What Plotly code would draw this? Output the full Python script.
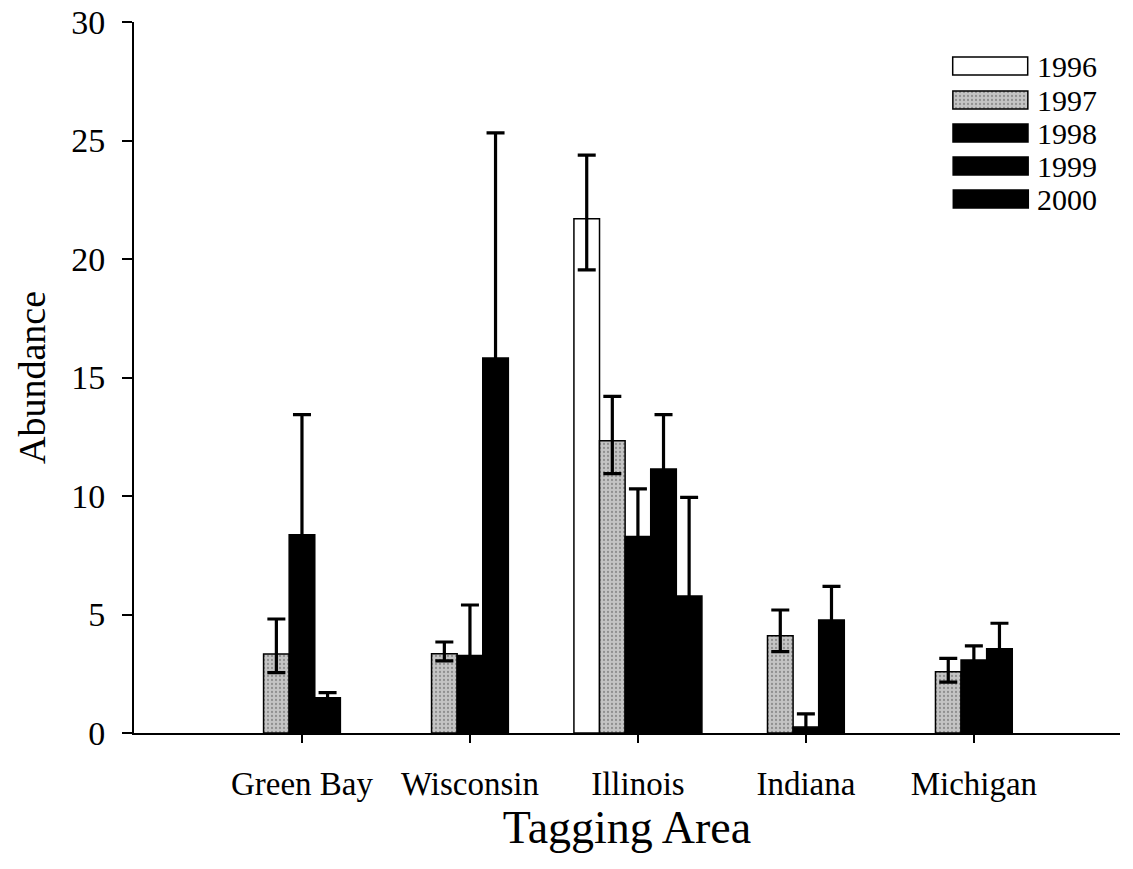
import plotly.graph_objects as go

# Mean abundance by tagging area and year, with upper / lower error extents
areas = ["Green Bay", "Wisconsin", "Illinois", "Indiana", "Michigan"]
years = ["1996", "1997", "1998", "1999", "2000"]

abund_1996 = [None, None, 21.70, None, None]
abund_1997 = [3.33, 3.34, 12.33, 4.10, 2.58]
abund_1998 = [8.36, 3.27, 8.29, 0.25, 3.08]
abund_1999 = [1.49, 15.82, 11.14, 4.77, 3.55]
abund_2000 = [None, None, 5.78, None, None]

err_hi_1996 = [0, 0, 2.68, 0, 0]
err_lo_1996 = [0, 0, 2.16, 0, 0]
err_hi_1997 = [1.48, 0.50, 1.87, 1.09, 0.57]
err_lo_1997 = [0.78, 0.30, 1.39, 0.67, 0.43]
err_hi_1998 = [5.07, 2.13, 2.01, 0.56, 0.60]
err_lo_1998 = [5.07, 2.13, 2.01, 0.25, 0.60]
err_hi_1999 = [0.21, 9.50, 2.29, 1.42, 1.08]
err_lo_1999 = [0.21, 9.50, 2.29, 1.42, 1.08]
err_hi_2000 = [0, 0, 4.16, 0, 0]
err_lo_2000 = [0, 0, 4.16, 0, 0]

series = [
    (abund_1996, err_hi_1996, err_lo_1996),
    (abund_1997, err_hi_1997, err_lo_1997),
    (abund_1998, err_hi_1998, err_lo_1998),
    (abund_1999, err_hi_1999, err_lo_1999),
    (abund_2000, err_hi_2000, err_lo_2000),
]

FONT = "Liberation Serif, Times New Roman, serif"
fills = ["white", "#c4c4c4", "black", "black", "black"]
stipple = dict(shape=".", fgcolor="#5a5a5a", bgcolor="#c4c4c4", size=4, solidity=0.25)


def bar_marker(fill, year):
    m = dict(color=fill, line=dict(color="black", width=1.5))
    if year == "1997":
        m["pattern"] = stipple
    return m


fig = go.Figure()
for yr, (vals, hi, lo), fill in zip(years, series, fills):
    fig.add_trace(go.Bar(
        name=yr, x=list(range(len(areas))), y=vals, marker=bar_marker(fill, yr),
        error_y=dict(type="data", symmetric=False, array=hi, arrayminus=lo,
                     color="black", thickness=3.2, width=9),
        showlegend=False,
    ))

# Legend: wide swatches on an overlay axis pair spanning the plot area (pixel units)
L, R, T, B = 134, 1120, 22, 733
legend_rows = [66, 100, 133, 166, 199]
SW_X0, SW_X1, SW_H = 953, 1028, 18
for yr, fill, row in zip(years, fills, legend_rows):
    fig.add_trace(go.Bar(
        x=[(SW_X0 + SW_X1) / 2], y=[SW_H], base=[B - row - SW_H / 2], width=[SW_X1 - SW_X0],
        marker=bar_marker(fill, yr), xaxis="x2", yaxis="y2", showlegend=False,
        hoverinfo="skip",
    ))
    fig.add_annotation(xref="x2", yref="y2", x=1035, y=B - row,
                       text=yr, showarrow=False, xanchor="left", yanchor="middle",
                       font=dict(family=FONT, size=30, color="black"))

fig.update_layout(
    width=1133, height=869,
    margin=dict(l=L, r=1133 - R, t=T, b=869 - B, autoexpand=False),
    plot_bgcolor="white", paper_bgcolor="white",
    barmode="group", bargap=0.238, bargroupgap=0,
    font=dict(family=FONT, color="black"),
    xaxis2=dict(overlaying="x", range=[L, R], visible=False, automargin=False),
    yaxis2=dict(overlaying="y", range=[0, B - T], visible=False, automargin=False),
)
fig.layout.xaxis.update(
    range=[-1.0, 4.87], tickmode="array", tickvals=list(range(len(areas))),
    ticktext=areas, ticks="outside", ticklen=8, tickwidth=2, tickcolor="black",
    showline=True, linecolor="black", linewidth=2, showgrid=False, zeroline=False,
    tickfont=dict(family=FONT, size=33), ticklabelstandoff=12, automargin=False,
    title=dict(text="Tagging Area", font=dict(family=FONT, size=46), standoff=4),
)
fig.layout.yaxis.update(
    range=[0, 30], tickvals=[0, 5, 10, 15, 20, 25, 30],
    ticks="outside", ticklen=10, tickwidth=2, tickcolor="black",
    showline=True, linecolor="black", linewidth=2, showgrid=False, zeroline=False,
    tickfont=dict(family=FONT, size=34), ticklabelstandoff=10, automargin=False,
    title=dict(text="Abundance", font=dict(family=FONT, size=38), standoff=14),
)

fig.write_html("out.html")
